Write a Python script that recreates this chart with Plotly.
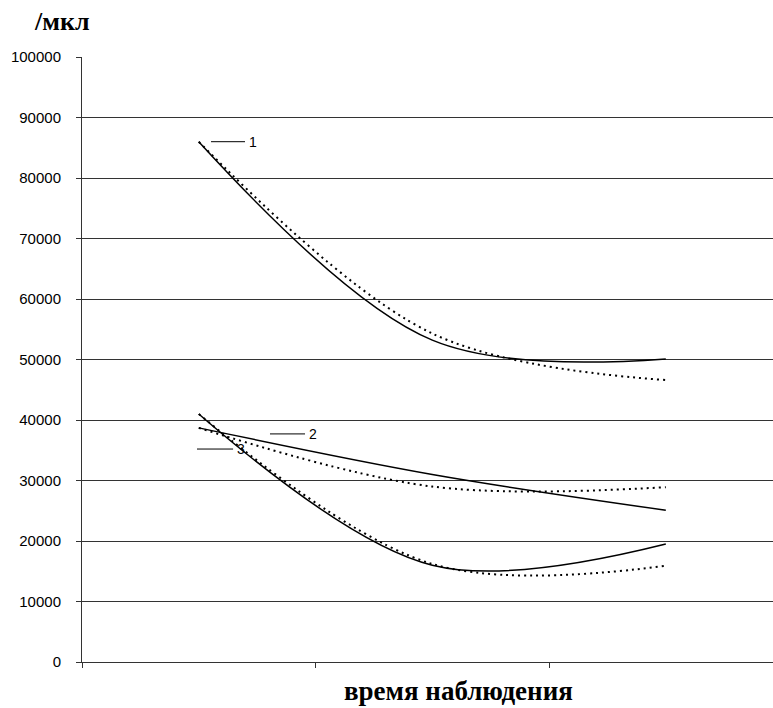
import plotly.graph_objects as go

# Data (three observation times, category positions 0,1,2)
times = [0, 1, 2]
s1_solid = [86000, 53200, 50100]
s1_dot = [86000, 54300, 46600]
s2_solid = [38700, 31000, 25100]
s2_dot = [38700, 29000, 28900]
s3_solid = [41000, 16000, 19500]
s3_dot = [41000, 16200, 15900]
y_ticks = [0, 10000, 20000, 30000, 40000, 50000, 60000, 70000, 80000, 90000, 100000]

fig = go.Figure()

def add(y, dotted):
    fig.add_trace(go.Scatter(
        x=times, y=y, mode="lines",
        line=dict(color="black", width=2 if dotted else 1.5,
                  dash="2px,4px" if dotted else "solid",
                  shape="spline", smoothing=1.0),
        showlegend=False, hoverinfo="skip"))

for s, d in [(s1_solid, False), (s1_dot, True), (s2_solid, False),
             (s2_dot, True), (s3_solid, False), (s3_dot, True)]:
    add(s, d)

# series labels with short leader lines
labels = [("1", 0.0525, 0.198, 86000), ("2", 0.305, 0.455, 37700), ("3", -0.0075, 0.147, 35200)]
for txt, x0, x1, yv in labels:
    fig.add_shape(type="line", xref="x", yref="y", x0=x0, x1=x1, y0=yv, y1=yv,
                  line=dict(color="black", width=1))
    fig.add_annotation(x=x1, y=yv, xref="x", yref="y", text=txt, showarrow=False,
                       xanchor="left", yanchor="middle", xshift=2,
                       font=dict(family="Liberation Sans, Arial", size=14, color="black"))

fig.update_layout(
    width=773, height=708,
    margin=dict(l=82, r=0, t=57, b=46),
    plot_bgcolor="white", paper_bgcolor="white",
    xaxis=dict(range=[-0.5, 2.459], showgrid=False, zeroline=False,
               tickvals=[-0.5, 0.5, 1.5, 2.5], ticks="outside", ticklen=5,
               tickcolor="#333", showticklabels=False,
               showline=True, linecolor="#333", linewidth=1),
    yaxis=dict(range=[0, 100000], tickvals=y_ticks,
               ticktext=[str(v) for v in y_ticks],
               showgrid=True, gridcolor="#333", gridwidth=1, zeroline=False,
               ticks="outside", ticklen=5, tickcolor="#333",
               showline=True, linecolor="#333", linewidth=1,
               ticklabelstandoff=12,
               tickfont=dict(family="Liberation Sans, Arial", size=15, color="black")),
    font=dict(family="Liberation Sans, Arial", color="black"),
)

fig.add_annotation(text="<b>/мкл</b>", xref="paper", yref="paper",
                   x=(32 - 82)/691, y=1 + (57 - 22)/605, xanchor="left", yanchor="middle",
                   showarrow=False,
                   font=dict(family="Liberation Serif, Times New Roman", size=26, color="black"))
fig.add_annotation(text="<b>время наблюдения</b>", xref="paper", yref="paper",
                   x=(459 - 82)/691, y=-(691 - 662)/605, xanchor="center", yanchor="middle",
                   showarrow=False,
                   font=dict(family="Liberation Serif, Times New Roman", size=27, color="black"))

fig.write_html("out.html", config={"displayModeBar": False},
               post_script="document.body.style.margin='0';")
